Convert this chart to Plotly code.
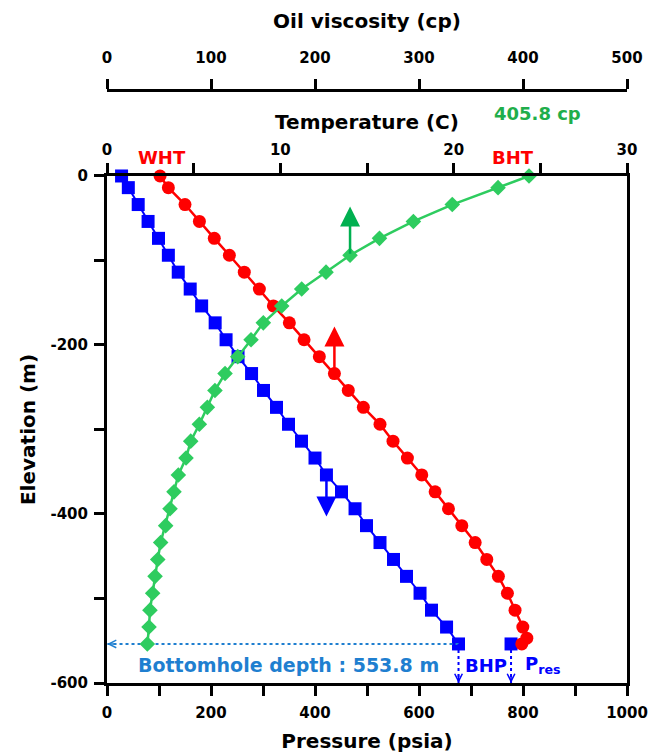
import plotly.graph_objects as go

# Well profile: elevation of each computation node (m)
depth_m = [0, -13.8, -33.8, -53.8, -73.8, -93.8, -113.8, -133.8, -153.8, -173.8,
           -193.8, -213.8, -233.8, -253.8, -273.8, -293.8, -313.8, -333.8, -353.8,
           -373.8, -393.8, -413.8, -433.8, -453.8, -473.8, -493.8, -513.8, -533.8, -553.8]

# Pressure along the well (psia)
pressure_psia = [28, 41, 60, 79, 99, 118, 137, 160, 182, 208, 229, 252, 278, 301, 326,
                 349, 374, 400, 422, 451, 477, 499, 525, 551, 576, 602, 624, 653, 676]

# Temperature along the well (C)
temp_depth_m = [0, -13.8, -33.8, -53.8, -73.8, -93.8, -113.8, -133.8, -153.8, -173.8,
                -193.8, -213.8, -233.8, -253.8, -273.8, -293.8, -313.8, -333.8, -353.8,
                -373.8, -393.8, -413.8, -433.8, -453.8, -473.8, -493.8, -513.8, -533.8,
                -547.0, -553.8]
temperature_c = [3.06, 3.54, 4.50, 5.33, 6.19, 7.06, 7.92, 8.79, 9.60, 10.52, 11.37, 12.25,
                 13.12, 13.92, 14.79, 15.75, 16.50, 17.33, 18.16, 18.93, 19.70, 20.47, 21.24,
                 21.91, 22.58, 23.10, 23.54, 23.99, 24.22, 23.93]

# Oil viscosity along the well (cp)
viscosity_cp = [405.8, 376, 332, 294.6, 262, 233.7, 210.6, 187.2, 168, 150.3, 138.5, 125.7,
                113.5, 103.8, 96.5, 88.8, 80.5, 76, 68.6, 64.4, 60.6, 56.4, 51.6, 48.8, 46.2,
                43.9, 41.3, 40.4, 38.8]

bottomhole_depth_m = 553.8
bhp_psia = pressure_psia[-1]
reservoir_pressure_psia = 777

# Trend arrows: (axis value, tail elevation, tip elevation)
visc_arrow = (viscosity_cp[5], depth_m[5], -36)
temp_arrow = (temperature_c[12], temp_depth_m[12], -178)
pres_arrow = (pressure_psia[18], depth_m[18], -403)

BLUE = "#0000ff"
RED = "#ff0000"
GREEN = "#2ecc5f"
DARK_GREEN = "#00b050"
DEPTH_BLUE = "#1f7fd0"
FONT = "DejaVu Sans"

fig = go.Figure()

# Pressure profile
fig.add_trace(go.Scatter(
    x=pressure_psia, y=depth_m, xaxis="x", yaxis="y", mode="lines+markers",
    line=dict(color=BLUE, width=2), marker=dict(symbol="square", size=13, color=BLUE),
    cliponaxis=False, showlegend=False))

# Reservoir pressure marker
fig.add_trace(go.Scatter(
    x=[reservoir_pressure_psia], y=[-bottomhole_depth_m], xaxis="x", yaxis="y",
    mode="markers", marker=dict(symbol="square", size=13, color=BLUE),
    cliponaxis=False, showlegend=False))

# Bottomhole depth guide (horizontal dotted line)
fig.add_trace(go.Scatter(
    x=[bhp_psia, 0], y=[-bottomhole_depth_m, -bottomhole_depth_m], xaxis="x", yaxis="y",
    mode="lines", line=dict(color=DEPTH_BLUE, width=2, dash="dot"),
    cliponaxis=False, showlegend=False, hoverinfo="skip"))

# BHP and reservoir pressure drop lines
for px in (bhp_psia, reservoir_pressure_psia):
    fig.add_trace(go.Scatter(
        x=[px, px], y=[-bottomhole_depth_m, -600], xaxis="x", yaxis="y",
        mode="lines", line=dict(color=BLUE, width=2, dash="dot"),
        cliponaxis=False, showlegend=False, hoverinfo="skip"))

# Temperature profile
fig.add_trace(go.Scatter(
    x=temperature_c, y=temp_depth_m, xaxis="x2", yaxis="y", mode="lines+markers",
    line=dict(color=RED, width=2.5), marker=dict(symbol="circle", size=13, color=RED),
    cliponaxis=False, showlegend=False))

# Viscosity profile
fig.add_trace(go.Scatter(
    x=viscosity_cp, y=depth_m, xaxis="x3", yaxis="y", mode="lines+markers",
    line=dict(color=GREEN, width=2.5), marker=dict(symbol="diamond", size=12, color=GREEN),
    cliponaxis=False, showlegend=False))

tick_font = dict(family=FONT, size=15, color="black", weight="bold")
title_font = dict(family=FONT, size=20, color="black", weight="bold")
axis_common = dict(
    showgrid=False, zeroline=False, showline=True, linecolor="black", linewidth=3,
    ticks="outside", ticklen=10, tickwidth=3, tickcolor="black", tickfont=tick_font,
    automargin=False,
)

annotations = []

def arrow(xref, spec, color):
    xv, tail, tip = spec
    annotations.append(dict(
        x=xv, y=tip, ax=xv, ay=tail, xref=xref, yref="y", axref=xref, ayref="y",
        showarrow=True, arrowhead=2, arrowsize=1.6, arrowwidth=2.5, arrowcolor=color,
        text=""))

arrow("x3", visc_arrow, DARK_GREEN)
arrow("x2", temp_arrow, RED)
arrow("x", pres_arrow, BLUE)

# Open chevrons at the ends of the dotted guides
annotations.append(dict(x=0, y=-bottomhole_depth_m, xref="x", yref="y", ax=10, ay=0,
                        showarrow=True, arrowhead=5, arrowwidth=1.5, arrowsize=1,
                        arrowcolor=DEPTH_BLUE, text=""))
for px in (bhp_psia, reservoir_pressure_psia):
    annotations.append(dict(x=px, y=-600, xref="x", yref="y", ax=0, ay=-10,
                            showarrow=True, arrowhead=5, arrowwidth=1.5, arrowsize=1,
                            arrowcolor=BLUE, text=""))

label_font = dict(family=FONT, size=18, weight="bold")
annotations += [
    dict(x=55, y=-579, xref="x", yref="y", xanchor="left", yanchor="middle", showarrow=False,
         text=f"Bottomhole depth : {bottomhole_depth_m} m",
         font=dict(family=FONT, size=19, weight="bold", color=DEPTH_BLUE)),
    dict(x=729, y=-579, xref="x", yref="y", xanchor="center", yanchor="middle", showarrow=False,
         text="BHP", font=dict(label_font, color=BLUE)),
    dict(x=800, y=-579, xref="x", yref="y", xanchor="left", yanchor="middle", showarrow=False,
         text="P<sub>res</sub>", font=dict(label_font, color=BLUE)),
    dict(x=3.2, y=0.887, xref="x2", yref="paper", xanchor="center", yanchor="middle",
         showarrow=False, text="WHT", font=dict(label_font, color=RED)),
    dict(x=23.4, y=0.887, xref="x2", yref="paper", xanchor="center", yanchor="middle",
         showarrow=False, text="BHT", font=dict(label_font, color=RED)),
    dict(x=414, y=0.961, xref="x3", yref="paper", xanchor="center", yanchor="middle",
         showarrow=False, text=f"{viscosity_cp[0]} cp", font=dict(label_font, color="#1fae4b")),
]

y_ticks = [0, -200, -400, -600]

fig.update_layout(
    width=659, height=756,
    margin=dict(l=107, r=32, t=90, b=73, autoexpand=False),
    paper_bgcolor="white", plot_bgcolor="white",
    xaxis=dict(axis_common, range=[0, 1000], dtick=200, tick0=0, side="bottom", anchor="y",
               minor=dict(dtick=100, ticks="outside", ticklen=10, tickwidth=3, tickcolor="black"),
               title=dict(text="Pressure (psia)", font=title_font, standoff=13),
               ticklabelstandoff=4),
    xaxis2=dict(axis_common, range=[0, 30], dtick=10, tick0=0, side="top", anchor="y",
                overlaying="x",
                minor=dict(dtick=5, ticks="outside", ticklen=10, tickwidth=3, tickcolor="black"),
                title=dict(text="Temperature (C)", font=title_font, standoff=6),
                ticklabelstandoff=2),
    xaxis3=dict(axis_common, range=[0, 500], dtick=100, tick0=0, side="top", anchor="free",
                position=1, overlaying="x",
                title=dict(text="Oil viscosity (cp)", font=title_font, standoff=14),
                ticklabelstandoff=10),
    yaxis=dict(axis_common, domain=[0, 0.855], range=[-600, 0], tickmode="array",
               tickvals=y_ticks, ticktext=[str(v) for v in y_ticks], mirror=True,
               minor=dict(dtick=100, tick0=0, ticks="outside", ticklen=10, tickwidth=3,
                          tickcolor="black"),
               title=dict(text="Elevation (m)", font=title_font, standoff=10),
               ticklabelstandoff=3),
    annotations=annotations,
)

fig.write_html("out.html")
